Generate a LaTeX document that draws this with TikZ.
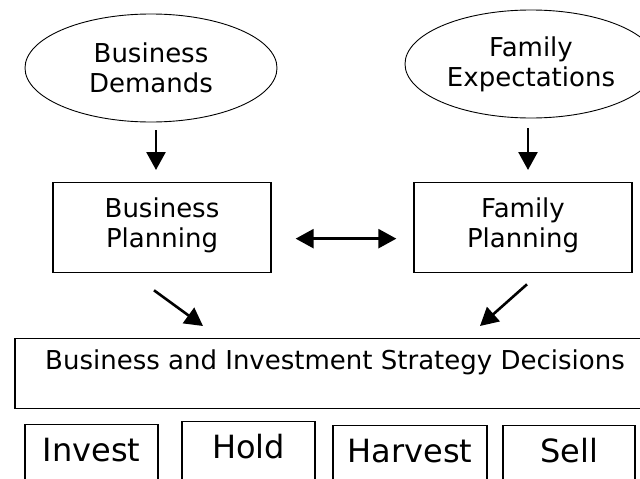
\documentclass[tikz,border=0pt]{standalone}
\usepackage{fontspec}
\setmainfont{DejaVu Sans}
\usetikzlibrary{calc,positioning,arrows.meta,shapes}

\newcommand\ovalfont{\fontsize{26}{30}\selectfont}
\newcommand\choicefont{\fontsize{32}{36}\selectfont}

\begin{document}
\begin{tikzpicture}[x=1pt, y=-1pt,
            >={Triangle[length=18pt, width=19pt]},
            every node/.style = {draw, align=center, inner xsep=0pt, inner ysep=0pt},
            oval/.style = {ellipse, minimum width=252pt, minimum height=108pt,
                    line width=0.9pt, font=\ovalfont},
            plan/.style = {rectangle, anchor=north, minimum width=218pt,
                    text height=65pt, text depth=25pt, line width=1.3pt, font=\ovalfont},
            choice/.style = {rectangle, anchor=north, text height=37pt, text depth=42pt,
                    line width=1.3pt, font=\choicefont},
            link/.style = {->, line width=2.6pt},
        ]
        \useasboundingbox (0,0) rectangle (640,479);

        \node[oval] (bdem) at (151,68) {Business\\Demands};
        \node[oval] (fexp) at (531,64) {Family\\Expectations};

        \node[plan] (bplan) at (162,182) {Business\\Planning};
        \node[plan] (fplan) at (523,182) {Family\\Planning};

        \node[rectangle, anchor=north, minimum width=640pt, text height=31pt, text depth=39pt,
            line width=1.3pt, font=\ovalfont] (decide) at (335,338)
            {Business and Investment Strategy Decisions};

        \foreach \n/\x/\y/\w in {Invest/91.5/424/133, Hold/248.5/421/133,
                Harvest/410/425/154, Sell/569/425/132}
            {
                \node[choice, minimum width=\w pt] (\n) at (\x,\y) {\n};
            }

        \draw[link] ([shift={(5,8)}]bdem.south) -- ([shift={(-6,-12)}]bplan.north);
        \draw[link] ([shift={(-3,10)}]fexp.south) -- ([shift={(5,-12)}]fplan.north);
        \draw[link, <->] ([shift={(24,11)}]bplan.east) -- ([shift={(-17,11)}]fplan.west);
        \draw[link] ([shift={(-8,17)}]bplan.south) -- ([shift={(-132,-12)}]decide.north);
        \draw[link] ([shift={(4,11)}]fplan.south) -- ([shift={(145,-12)}]decide.north);
    \end{tikzpicture}
\end{document}
